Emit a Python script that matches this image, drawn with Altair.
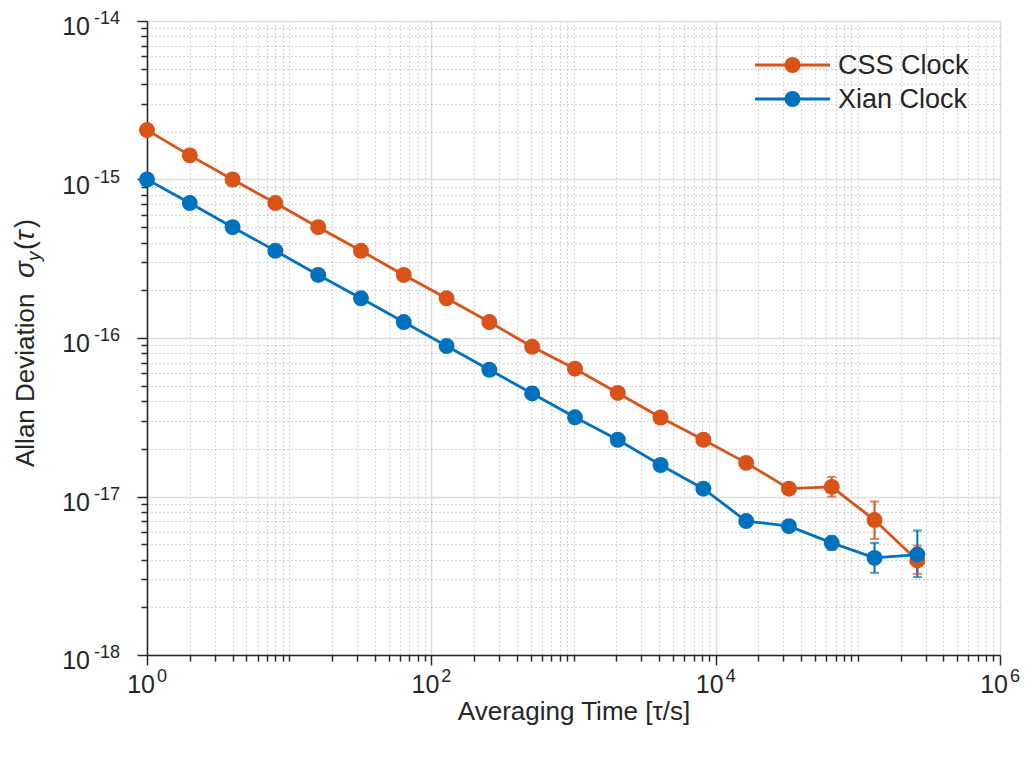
import altair as alt
import pandas as pd

# ---------------- data ----------------
tau = [1, 2, 4, 8, 16, 32, 64, 128, 256, 512, 1024, 2048, 4096, 8192,
       16384, 32768, 65536, 131072, 262144]
css = [2.05e-15, 1.42e-15, 1.0e-15, 7.1e-16, 5.0e-16, 3.55e-16, 2.5e-16,
       1.78e-16, 1.26e-16, 8.8e-17, 6.4e-17, 4.5e-17, 3.15e-17, 2.28e-17,
       1.63e-17, 1.12e-17, 1.15e-17, 7.1e-18, 3.95e-18]
xian = [1.0e-15, 7.1e-16, 5.0e-16, 3.55e-16, 2.5e-16, 1.78e-16, 1.26e-16,
        8.9e-17, 6.3e-17, 4.47e-17, 3.16e-17, 2.28e-17, 1.58e-17, 1.12e-17,
        7.0e-18, 6.5e-18, 5.1e-18, 4.1e-18, 4.3e-18]
series_names = ["CSS Clock", "Xian Clock"]
series_colors = ["#D95319", "#0072BD"]

err_series = ["CSS Clock", "CSS Clock", "CSS Clock",
              "Xian Clock", "Xian Clock", "Xian Clock"]
err_tau = [65536, 131072, 262144, 65536, 131072, 262144]
err_lo = [1.0e-17, 5.4e-18, 3.25e-18, 4.6e-18, 3.3e-18, 3.1e-18]
err_hi = [1.33e-17, 9.3e-18, 4.9e-18, 5.6e-18, 5.1e-18, 6.1e-18]

# tick labels: base "10" with a superscript exponent
x_major = [1, 1e2, 1e4, 1e6]
x_major_exp = ["0", "2", "4", "6"]
y_major = [1e-18, 1e-17, 1e-16, 1e-15, 1e-14]
y_major_exp = ["-18", "-17", "-16", "-15", "-14"]
label_base = "10"

x_ticks = [m * 10.0 ** k for k in range(0, 6) for m in range(1, 10)] + [1e6]
y_ticks = [m * 10.0 ** k for k in range(-18, -14) for m in range(1, 10)] + [1e-14]

x_title = "Averaging Time [τ/s]"
# y title pieces: text, italic?, font size, offset along text, subscript shift
y_title_parts = [
    ("Allan Deviation", False, 26, 0, 0),
    ("σ", True, 28, 189, 0),
    ("y", True, 19, 206, 6),
    ("(", False, 27, 217, 0),
    ("τ", True, 28, 226, 0),
    (")", False, 27, 239, 0),
]

# ---------------- tables ----------------
df = pd.DataFrame({
    "tau": tau * 2,
    "adev": css + xian,
    "series": [series_names[0]] * len(tau) + [series_names[1]] * len(tau),
})
df_err = pd.DataFrame({"tau": err_tau, "lo": err_lo, "hi": err_hi,
                       "series": err_series})
df_xlab = pd.DataFrame({"tau": x_major, "base": label_base, "exp": x_major_exp})
df_ylab = pd.DataFrame({"adev": y_major, "base": label_base, "exp": y_major_exp})

FONT = "Liberation Sans"
INK = "#262626"
W, H = 853, 634
color_scale = alt.Scale(domain=series_names, range=series_colors)

y_major_test = "abs(log(datum.value)/LN10 - round(log(datum.value)/LN10)) < 0.01"
x_major_test = "abs(log(datum.value)/LN10/2 - round(log(datum.value)/LN10/2)) < 0.005"


def axis(ticks, test, title, **kw):
    return alt.Axis(
        values=ticks,
        labels=False,
        grid=True,
        gridColor={"condition": {"test": test, "value": "#dcdcdc"}, "value": "#a8a8a8"},
        gridDash={"condition": {"test": test, "value": []}, "value": [1, 3]},
        gridWidth={"condition": {"test": test, "value": 1.5}, "value": 1},
        tickSize={"condition": {"test": test, "value": 10}, "value": 6},
        tickWidth=1.5,
        tickColor=INK,
        domainColor=INK,
        domainWidth=1.5,
        title=title,
        titleFont=FONT,
        titleFontSize=26,
        titleFontWeight="normal",
        titleColor=INK,
        **kw,
    )


x_scale = alt.Scale(type="log", domain=[1, 1e6], nice=False)
y_scale = alt.Scale(type="log", domain=[1e-18, 1e-14], nice=False)
x_enc = alt.X("tau:Q", scale=x_scale,
              axis=axis(x_ticks, x_major_test, x_title, titlePadding=33))
y_enc = alt.Y("adev:Q", scale=y_scale, axis=axis(y_ticks, y_major_test, None))

lines = alt.Chart(df).mark_line(strokeWidth=2.8).encode(
    x=x_enc, y=y_enc,
    color=alt.Color("series:N", scale=color_scale, legend=None),
)

err_rule = alt.Chart(df_err).mark_rule(strokeWidth=2).encode(
    x="tau:Q", y="lo:Q", y2="hi:Q",
    color=alt.Color("series:N", scale=color_scale, legend=None),
)
err_cap_lo = alt.Chart(df_err).mark_tick(orient="horizontal", size=9, thickness=2).encode(
    x="tau:Q", y="lo:Q",
    color=alt.Color("series:N", scale=color_scale, legend=None),
)
err_cap_hi = alt.Chart(df_err).mark_tick(orient="horizontal", size=9, thickness=2).encode(
    x="tau:Q", y="hi:Q",
    color=alt.Color("series:N", scale=color_scale, legend=None),
)

points = alt.Chart(df).mark_circle(size=255, opacity=1).encode(
    x="tau:Q", y="adev:Q",
    color=alt.Color("series:N", scale=color_scale, legend=None),
)

# ---- tick labels 10^n ----
xlab_base = alt.Chart(df_xlab).mark_text(
    align="right", baseline="alphabetic", font=FONT, fontSize=25, color=INK, dx=8, dy=38
).encode(x="tau:Q", y=alt.value(H), text="base:N")
xlab_exp = alt.Chart(df_xlab).mark_text(
    align="left", baseline="alphabetic", font=FONT, fontSize=18, color=INK, dx=10, dy=27
).encode(x="tau:Q", y=alt.value(H), text="exp:N")
ylab_base = alt.Chart(df_ylab).mark_text(
    align="right", baseline="alphabetic", font=FONT, fontSize=25, color=INK, dy=14
).encode(y="adev:Q", x=alt.value(-57), text="base:N")
ylab_exp = alt.Chart(df_ylab).mark_text(
    align="left", baseline="alphabetic", font=FONT, fontSize=18, color=INK, dy=3
).encode(y="adev:Q", x=alt.value(-53), text="exp:N")

# ---- legend (decoration, top-right inside the plot) ----
LEG_X0, LEG_X1, LEG_Y0, LEG_DY = 608, 683, 44, 34
legend_layers = []
for i, name in enumerate(series_names):
    ldf = pd.DataFrame({"series": [name]})
    yy = LEG_Y0 + i * LEG_DY
    legend_layers.append(alt.Chart(ldf).mark_rule(strokeWidth=2.8).encode(
        x=alt.value(LEG_X0), x2=alt.value(LEG_X1), y=alt.value(yy),
        color=alt.Color("series:N", scale=color_scale, legend=None)))
    legend_layers.append(alt.Chart(ldf).mark_circle(size=255, opacity=1).encode(
        x=alt.value((LEG_X0 + LEG_X1) / 2), y=alt.value(yy),
        color=alt.Color("series:N", scale=color_scale, legend=None)))
    legend_layers.append(alt.Chart(ldf).mark_text(
        align="left", baseline="middle", font=FONT, fontSize=27, color=INK, dx=8
    ).encode(x=alt.value(LEG_X1), y=alt.value(yy + 1), text="series:N"))

title_layers = []
for txt, ital, fs, dx, dy in y_title_parts:
    title_layers.append(
        alt.Chart(pd.DataFrame({"t": [txt]})).mark_text(
            angle=270, align="left", baseline="alphabetic", font=FONT,
            fontSize=fs, fontStyle="italic" if ital else "normal",
            color=INK, dx=dx, dy=dy,
        ).encode(text="t:N", x=alt.value(-113), y=alt.value(446))
    )

chart = alt.layer(lines, err_rule, err_cap_lo, err_cap_hi, points,
                  xlab_base, xlab_exp, ylab_base, ylab_exp,
                  *legend_layers, *title_layers).properties(
    width=W, height=H,
    autosize=alt.AutoSizeParams(type="none"),
    padding={"left": 139, "top": 13, "right": 20, "bottom": 80},
    background="white",
).configure_view(stroke=None)

chart.save("out.html", embed_options={"renderer": "svg", "actions": False})
